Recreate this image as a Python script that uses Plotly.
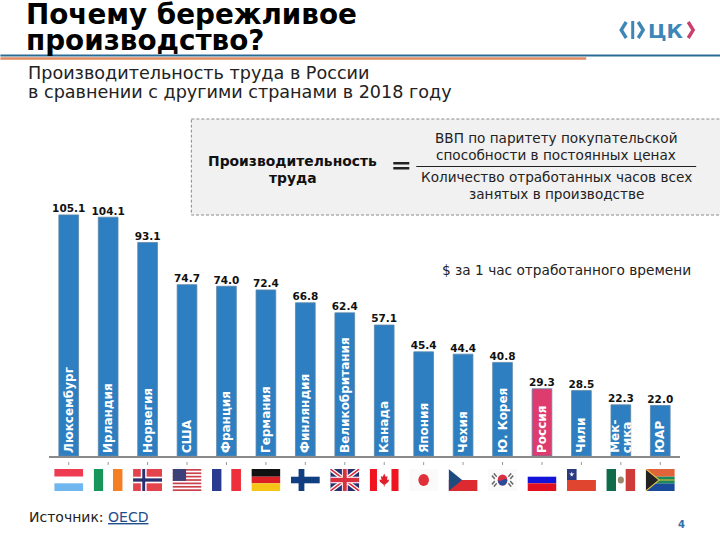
import base64
import plotly.graph_objects as go

countries = ["Люксембург", "Ирландия", "Норвегия", "США", "Франция", "Германия", "Финляндия", "Великобритания",
             "Канада", "Япония", "Чехия", "Ю. Корея", "Россия", "Чили", "Мексика", "ЮАР"]
values = [105.1, 104.1, 93.1, 74.7, 74.0, 72.4, 66.8, 62.4, 57.1, 45.4, 44.4, 40.8, 29.3, 28.5, 22.3, 22.0]
bar_names = ["Люксембург", "Ирландия", "Норвегия", "США", "Франция", "Германия", "Финляндия", "Великобритания",
             "Канада", "Япония", "Чехия", "Ю. Корея", "Россия", "Чили", "", "ЮАР"]
split_name_parts = ["Мек-", "сика"]
split_name_country = "Мексика"

W, H = 720, 540
L, R, T, B = 48.6, 40.2, 200, 84
PW, PH = W - L - R, H - T - B
FONT = "DejaVu Sans"
BLUE = "#2E7FC1"
PINK = "#DE3B6F"


def px(x):
    return (x - L) / PW


def py(y):
    return 1 - (y - T) / PH


def svg(body):
    s = f'<svg xmlns="http://www.w3.org/2000/svg" viewBox="0 0 30 20" preserveAspectRatio="none">{body}</svg>'
    return "data:image/svg+xml;base64," + base64.b64encode(s.encode()).decode()


def r(x, y, w, h, c):
    return f'<rect x="{x}" y="{y}" width="{w}" height="{h}" fill="{c}"/>'


usa = r(0, 0, 30, 20, "#fff") + "".join(r(0, i * 3.08, 30, 1.54, "#C8414B") for i in range(7)) + r(0, 0, 14, 10.8, "#3C3F78")
uk = (r(0, 0, 30, 20, "#2A2F6E")
      + '<path d="M0 0L30 20M30 0L0 20" stroke="#fff" stroke-width="4"/>'
      + '<path d="M0 0L30 20M30 0L0 20" stroke="#D9303F" stroke-width="1.5"/>'
      + r(12, 0, 6, 20, "#fff") + r(0, 7, 30, 6, "#fff") + r(13, 0, 4, 20, "#D9303F") + r(0, 8, 30, 4, "#D9303F"))
canada = (r(0, 0, 30, 20, "#fff") + r(0, 0, 7.5, 20, "#F0141E") + r(22.5, 0, 7.5, 20, "#F0141E")
          + '<path d="M15 4L16.5 7L18.5 6.5L17.8 10L20 9.5L19.5 11.5L16 14L15.4 14V16H14.6V14L14 14L10.5 11.5L10 9.5L12.2 10L11.5 6.5L13.5 7Z" fill="#E0202A"/>')
korea = (r(0, 0, 30, 20, "#fafafa")
         + '<circle cx="15" cy="10" r="5" fill="#D9303F"/><path d="M10 10A5 5 0 0 0 20 10Q17.5 8 15 10T10 10Z" fill="#2A4A9A"/>'
         + '<path d="M6 4L9 7M4 6L7 9M24 4L21 7M26 6L23 9M6 16L9 13M4 14L7 11M24 16L21 13M26 14L23 11" stroke="#666" stroke-width="1.4"/>')
chile = (r(0, 0, 30, 10, "#fff") + r(0, 10, 30, 10, "#E0452F") + r(0, 0, 10, 10, "#2A3A80")
         + '<path d="M5 2L6.2 6.8L2.2 4H7.8L3.8 6.8Z" fill="#fff"/>')
mexico = (r(0, 0, 10, 20, "#0F6B4A") + r(10, 0, 10, 20, "#fff") + r(20, 0, 10, 20, "#CE3B3B")
          + '<circle cx="15" cy="10" r="3.2" fill="#9A8A70"/>')
rsa = (r(0, 0, 30, 7, "#E0633A") + r(0, 13, 30, 7, "#1A4A9A") + r(0, 7, 30, 6, "#1A8A5A")
       + '<path d="M0 0L13 10L0 20Z" fill="#222"/><path d="M0 0L14 10L0 20M14 10H30" fill="none" stroke="#F0C040" stroke-width="1"/>')

flags = {
    "Люксембург": r(0, 0, 30, 7, "#EE3B52") + r(0, 7, 30, 6, "#fff") + r(0, 13, 30, 7, "#6FB7EE"),
    "Ирландия": r(0, 0, 10, 20, "#17955A") + r(10, 0, 10, 20, "#fff") + r(20, 0, 10, 20, "#F47F24"),
    "Норвегия": r(0, 0, 30, 20, "#E5434B") + r(8, 0, 6, 20, "#fff") + r(0, 7, 30, 6, "#fff") + r(9.5, 0, 3, 20, "#2A2F6E") + r(0, 8.5, 30, 3, "#2A2F6E"),
    "США": usa,
    "Франция": r(0, 0, 10, 20, "#2A3A8E") + r(10, 0, 10, 20, "#fff") + r(20, 0, 10, 20, "#EE2F3C"),
    "Германия": r(0, 0, 30, 7, "#111") + r(0, 7, 30, 6, "#DD1F26") + r(0, 13, 30, 7, "#F5C518"),
    "Финляндия": r(0, 0, 30, 20, "#fff") + r(8, 0, 6, 20, "#0F3F80") + r(0, 7, 30, 6, "#0F3F80"),
    "Великобритания": uk,
    "Канада": canada,
    "Япония": r(0, 0, 30, 20, "#fafafa") + '<circle cx="15" cy="10" r="5.5" fill="#E0303A"/>',
    "Чехия": r(0, 0, 30, 10, "#fff") + r(0, 10, 30, 10, "#DD2A30") + '<path d="M0 0L14 10L0 20Z" fill="#1F4A80"/>',
    "Ю. Корея": korea,
    "Россия": r(0, 0, 30, 7, "#fff") + r(0, 7, 30, 6, "#1212D8") + r(0, 13, 30, 7, "#E01020"),
    "Чили": chile,
    "Мексика": mexico,
    "ЮАР": rsa,
}

fig = go.Figure()
fig.add_bar(
    x=countries, y=values, width=0.5,
    marker=dict(color=[PINK if c == "Россия" else BLUE for c in countries],
                line=dict(color="#5D87A8", width=0.8)),
    text=bar_names, textposition="inside", insidetextanchor="start", textangle=-90,
    constraintext="none", cliponaxis=True,
    insidetextfont=dict(family=FONT, size=12, color="white", weight="bold"),
    showlegend=False, hoverinfo="skip",
)
fig.add_scatter(
    x=countries, y=values, mode="text", text=[f"{v:.1f}" for v in values], textposition="top center",
    textfont=dict(family=FONT, size=10.5, color="#111", weight="bold"), showlegend=False, hoverinfo="skip",
    cliponaxis=False,
)

images = [dict(source=svg(flags[c]), xref="x", yref="paper", x=c, y=py(469), sizex=29 / (PW / 16),
               sizey=22 / PH, xanchor="center", yanchor="top", sizing="stretch", layer="above")
          for c in countries]

shapes = [
    dict(type="rect", xref="paper", yref="paper", x0=px(191), x1=px(722), y0=py(119), y1=py(215),
         fillcolor="#F1F1F1", line=dict(color="#8A8A8A", width=1, dash="3px,2px"), layer="below"),
    dict(type="line", xref="paper", yref="paper", x0=px(0), x1=px(720), y0=py(55.5), y1=py(55.5),
         line=dict(color="#2A6C95", width=2)),
    dict(type="line", xref="paper", yref="paper", x0=px(0), x1=px(586), y0=py(58.5), y1=py(58.5),
         line=dict(color="#E08A5F", width=2.5)),
    dict(type="line", xref="paper", yref="paper", x0=px(416), x1=px(696), y0=py(166.5), y1=py(166.5),
         line=dict(color="#222", width=1)),
    dict(type="rect", xref="paper", yref="paper", x0=px(393), x1=px(409), y0=py(162), y1=py(164.5),
         fillcolor="#222", line_width=0),
    dict(type="rect", xref="paper", yref="paper", x0=px(393), x1=px(409), y0=py(167), y1=py(169.5),
         fillcolor="#222", line_width=0),
]
for c in countries:
    shapes.append(dict(type="line", xref="x", yref="paper", x0=c, x1=c, y0=py(462), y1=py(465),
                       line=dict(color="#999", width=1)))


def chevron(x0, x1, y0, y1, color, left=True):
    a, b = (x1, x0) if left else (x0, x1)
    ym = (y0 + y1) / 2
    return dict(type="path", xref="paper", yref="paper",
                path=f"M{px(a)},{py(y0)} L{px(b)},{py(ym)} L{px(a)},{py(y1)}",
                line=dict(color=color, width=3.4))


shapes += [
    chevron(621, 626, 22, 38, "#3E86B8", True),
    dict(type="rect", xref="paper", yref="paper", x0=px(631), x1=px(634), y0=py(21), y1=py(39),
         fillcolor="#3E86B8", line_width=0),
    chevron(638, 643, 22, 38, "#3E86B8", False),
    chevron(688, 693, 22, 38, "#CC3F6C", False),
]


def note(x, y, text, size, color="#111", anchor="left", bold=False):
    return dict(xref="paper", yref="paper", x=px(x), y=py(y), text=text, showarrow=False, xanchor=anchor,
                yanchor="middle", align=anchor,
                font=dict(family=FONT, size=size, color=color, weight="bold" if bold else "normal"))


annotations = [
    note(24, 14, "Почему бережливое", 27.8, "#000", bold=True),
    note(24, 40.5, "производство?", 27.8, "#000", bold=True),
    note(26, 73, "Производительность труда в России", 17.6, "#222"),
    note(26, 92, "в сравнении с другими странами в 2018 году", 17.6, "#222"),
    note(292.5, 161, "Производительность", 13.9, "#111", "center", True),
    note(292.5, 178, "труда", 13.9, "#111", "center", True),
    note(556, 138, "ВВП по паритету покупательской", 13.6, "#222", "center"),
    note(556, 155, "способности в постоянных ценах", 13.6, "#222", "center"),
    note(556, 177, "Количество отработанных часов всех", 13.6, "#222", "center"),
    note(556, 194, "занятых в производстве", 13.6, "#222", "center"),
    note(693, 270, "$ за 1 час отработанного времени", 13.7, "#222", "right"),
    note(27, 517, 'Источник: <span style="color:#1F4E8C"><u>OECD</u></span>', 14, "#222"),
    note(681, 524, "4", 10, "#2F6FA8", "center", True),
    note(646, 30.5, "ЦК", 20, "#3E86B8", "left", True),
]
for part, shift in zip(split_name_parts, [-6.5, 6.5]):
    annotations.append(dict(xref="x", yref="y", x=split_name_country, y=0, text=part, showarrow=False,
                            textangle=-90, xanchor="center", yanchor="bottom", xshift=shift, yshift=1,
                            font=dict(family=FONT, size=12, color="white", weight="bold")))

fig.update_layout(
    width=W, height=H, margin=dict(l=L, r=R, t=T, b=B), paper_bgcolor="white", plot_bgcolor="rgba(0,0,0,0)",
    bargap=0.5, showlegend=False, font=dict(family=FONT), images=images, shapes=shapes, annotations=annotations,
    xaxis=dict(type="category", categoryorder="array", categoryarray=countries, range=[-0.5, 15.5],
               showticklabels=False, ticks="", showgrid=False, zeroline=False, showline=True,
               linecolor="#8A8A8A", linewidth=1.5),
    yaxis=dict(range=[0, 111.6], visible=False, showgrid=False, zeroline=False),
)
fig.write_html("out.html", config=dict(displayModeBar=False),
               post_script="document.body.style.margin='0';document.body.style.overflow='hidden';")
